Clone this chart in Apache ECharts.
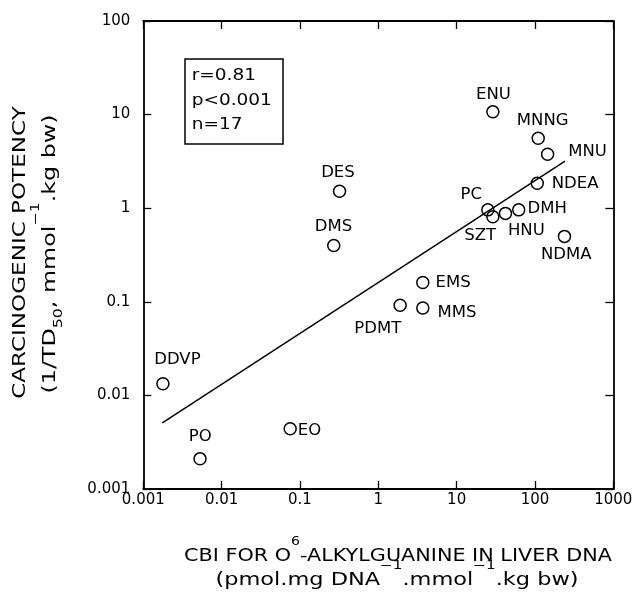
<!DOCTYPE html>
<html>
<head>
<meta charset="utf-8">
<script src="https://cdn.jsdelivr.net/npm/echarts@6/dist/echarts.min.js"></script>
<style>
  html, body { margin: 0; padding: 0; background: #fff; }
  #chart { width: 640px; height: 597px; }
</style>
</head>
<body>
<div id="chart"></div>
<script>
// Compounds with their O6-alkylguanine binding index (x) and carcinogenic potency (y)
const compounds = ['DDVP', 'PO', 'EO', 'DES', 'DMS', 'PDMT', 'EMS', 'MMS', 'PC', 'SZT', 'HNU', 'DMH', 'ENU', 'NDEA', 'MNNG', 'MNU', 'NDMA'];
const cbiValues = [0.00178, 0.0053, 0.075, 0.32, 0.27, 1.9, 3.7, 3.7, 25, 29, 42, 62, 29, 107, 110, 145, 238];
const potencyValues = [0.0133, 0.0021, 0.0044, 1.52, 0.40, 0.092, 0.161, 0.086, 0.96, 0.81, 0.88, 0.96, 10.7, 1.85, 5.6, 3.77, 0.50];

// Regression line end points
const fitCbi = [0.00175, 242];
const fitPotency = [0.0051, 3.19];

// Axis tick labels, one per decade
const xTickLabels = ['0.001', '0.01', '0.1', '1', '10', '100', '1000'];
const yTickLabels = ['0.001', '0.01', '0.1', '1', '10', '100'];

// Statistics shown in the inset box
const statLines = ['r=0.81', 'p<0.001', 'n=17'];

const FONT = '"DejaVu Sans", "Liberation Sans", Arial, sans-serif';

// Where each compound name sits relative to its marker: [align, dx, dy]
const labelPlacement = {
  DDVP: ['center', 14.5, -23.8],
  PO: ['center', 0.3, -22.1],
  EO: ['left', 7.6, 1.7],
  DES: ['center', -1.6, -18.4],
  DMS: ['center', -0.3, -18.4],
  PDMT: ['center', -22.4, 23.2],
  EMS: ['left', 12.7, 0],
  MMS: ['left', 14.8, 5.1],
  PC: ['right', -5.9, -15.6],
  SZT: ['center', -12.7, 19.4],
  HNU: ['center', 20.9, 17.7],
  DMH: ['left', 8.8, -1.4],
  ENU: ['center', 0.6, -17.2],
  NDEA: ['left', 14.4, 0.2],
  MNNG: ['center', 4.5, -17.1],
  MNU: ['left', 20.6, -2.5],
  NDMA: ['center', 1.8, 18]
};

function decadeLabel(labels, value) {
  const idx = Math.round(Math.log10(value)) + 3;
  return labels[idx] !== undefined ? labels[idx] : '';
}

const axisLineStyle = { show: true, onZero: false, lineStyle: { color: '#000', width: 1.8 } };
const tickStyle = { show: true, inside: true, length: 8, lineStyle: { color: '#000', width: 1.3 } };

const scatterData = compounds.map((name, i) => {
  const p = labelPlacement[name];
  return {
    name: name,
    value: [cbiValues[i], potencyValues[i]],
    label: { align: p[0], offset: [p[1], p[2]] }
  };
});

const fitData = fitCbi.map((x, i) => [x, fitPotency[i]]);

const mainStyle = { fontSize: 17, fontFamily: FONT, lineHeight: 19, fill: '#000' };
const supStyle = { fontSize: 11.5, fontFamily: FONT, lineHeight: 12, padding: [0, 0, 30, 0], fill: '#000' };
const yMainStyle = { fontSize: 18, fontFamily: FONT, lineHeight: 20, fill: '#000' };
const ySupStyle = { fontSize: 12, fontFamily: FONT, lineHeight: 12, padding: [0, 0, 30, 0], fill: '#000' };
const ySubStyle = { fontSize: 12, fontFamily: FONT, lineHeight: 12, padding: [16, 0, 0, 0], fill: '#000' };

const chart = echarts.init(document.getElementById('chart'), null, { renderer: 'canvas' });

chart.setOption({
  animation: false,
  backgroundColor: '#fff',
  grid: { left: 143.3, right: 26.7, top: 21, bottom: 108 },
  xAxis: [
    {
      type: 'log', logBase: 10, min: 0.001, max: 1000, position: 'bottom',
      axisLine: axisLineStyle, axisTick: tickStyle,
      axisLabel: {
        color: '#000', fontSize: 15, fontFamily: FONT, margin: 4,
        formatter: v => decadeLabel(xTickLabels, v)
      },
      splitLine: { show: false }
    },
    {
      type: 'log', logBase: 10, min: 0.001, max: 1000, position: 'top',
      axisLine: axisLineStyle, axisTick: tickStyle,
      axisLabel: { show: false }, splitLine: { show: false }
    }
  ],
  yAxis: [
    {
      type: 'log', logBase: 10, min: 0.001, max: 100, position: 'left',
      axisLine: axisLineStyle, axisTick: tickStyle,
      axisLabel: {
        color: '#000', fontSize: 15, fontFamily: FONT, margin: 13,
        formatter: v => decadeLabel(yTickLabels, v)
      },
      splitLine: { show: false }
    },
    {
      type: 'log', logBase: 10, min: 0.001, max: 100, position: 'right',
      axisLine: axisLineStyle, axisTick: tickStyle,
      axisLabel: { show: false }, splitLine: { show: false }
    }
  ],
  series: [
    {
      type: 'line',
      data: fitData,
      symbol: 'none',
      silent: true,
      lineStyle: { color: '#000', width: 1.5 },
      z: 2
    },
    {
      type: 'scatter',
      data: scatterData,
      symbol: 'circle',
      symbolSize: 12,
      itemStyle: { color: 'rgba(0,0,0,0)', borderColor: '#000', borderWidth: 1.5, opacity: 1 },
      label: {
        show: true, position: 'inside', formatter: '{b}',
        color: '#000', fontSize: 16.5, fontFamily: FONT, textBorderWidth: 0
      },
      emphasis: { disabled: true },
      z: 3
    }
  ],
  graphic: [
    {
      type: 'rect',
      shape: { x: 185, y: 59, width: 98, height: 85 },
      style: { fill: '#fff', stroke: '#000', lineWidth: 1.5 },
      z: 10
    },
    {
      type: 'text', x: 191.7, y: 100.5, scaleX: 1.12, z: 11,
      style: {
        text: statLines.join('\n'), fill: '#000',
        fontSize: 16.5, fontFamily: FONT, lineHeight: 24.5,
        align: 'left', verticalAlign: 'middle'
      }
    },
    {
      type: 'text', x: 398, y: 557, scaleX: 1.22, z: 11,
      style: {
        text: '{m|CBI FOR O}{s|6}{m|-ALKYLGUANINE IN LIVER DNA}',
        rich: { m: mainStyle, s: supStyle },
        fill: '#000', align: 'center', verticalAlign: 'middle'
      }
    },
    {
      type: 'text', x: 397, y: 581, scaleX: 1.32, z: 11,
      style: {
        text: '{m|(pmol.mg DNA}{s|−1}{m|.mmol}{s|−1}{m|.kg bw)}',
        rich: { m: mainStyle, s: supStyle },
        fill: '#000', align: 'center', verticalAlign: 'middle'
      }
    },
    {
      type: 'text', x: 20, y: 252.5, rotation: Math.PI / 2, scaleX: 1.28, z: 11,
      style: {
        text: '{m|CARCINOGENIC POTENCY}',
        rich: { m: yMainStyle },
        fill: '#000', align: 'center', verticalAlign: 'middle'
      }
    },
    {
      type: 'text', x: 50.5, y: 254, rotation: Math.PI / 2, scaleX: 1.32, z: 11,
      style: {
        text: '{m|(1/TD}{b|50}{m|, mmol}{s|−1}{m|.kg bw)}',
        rich: { m: yMainStyle, s: ySupStyle, b: ySubStyle },
        fill: '#000', align: 'center', verticalAlign: 'middle'
      }
    }
  ]
});
</script>
</body>
</html>
